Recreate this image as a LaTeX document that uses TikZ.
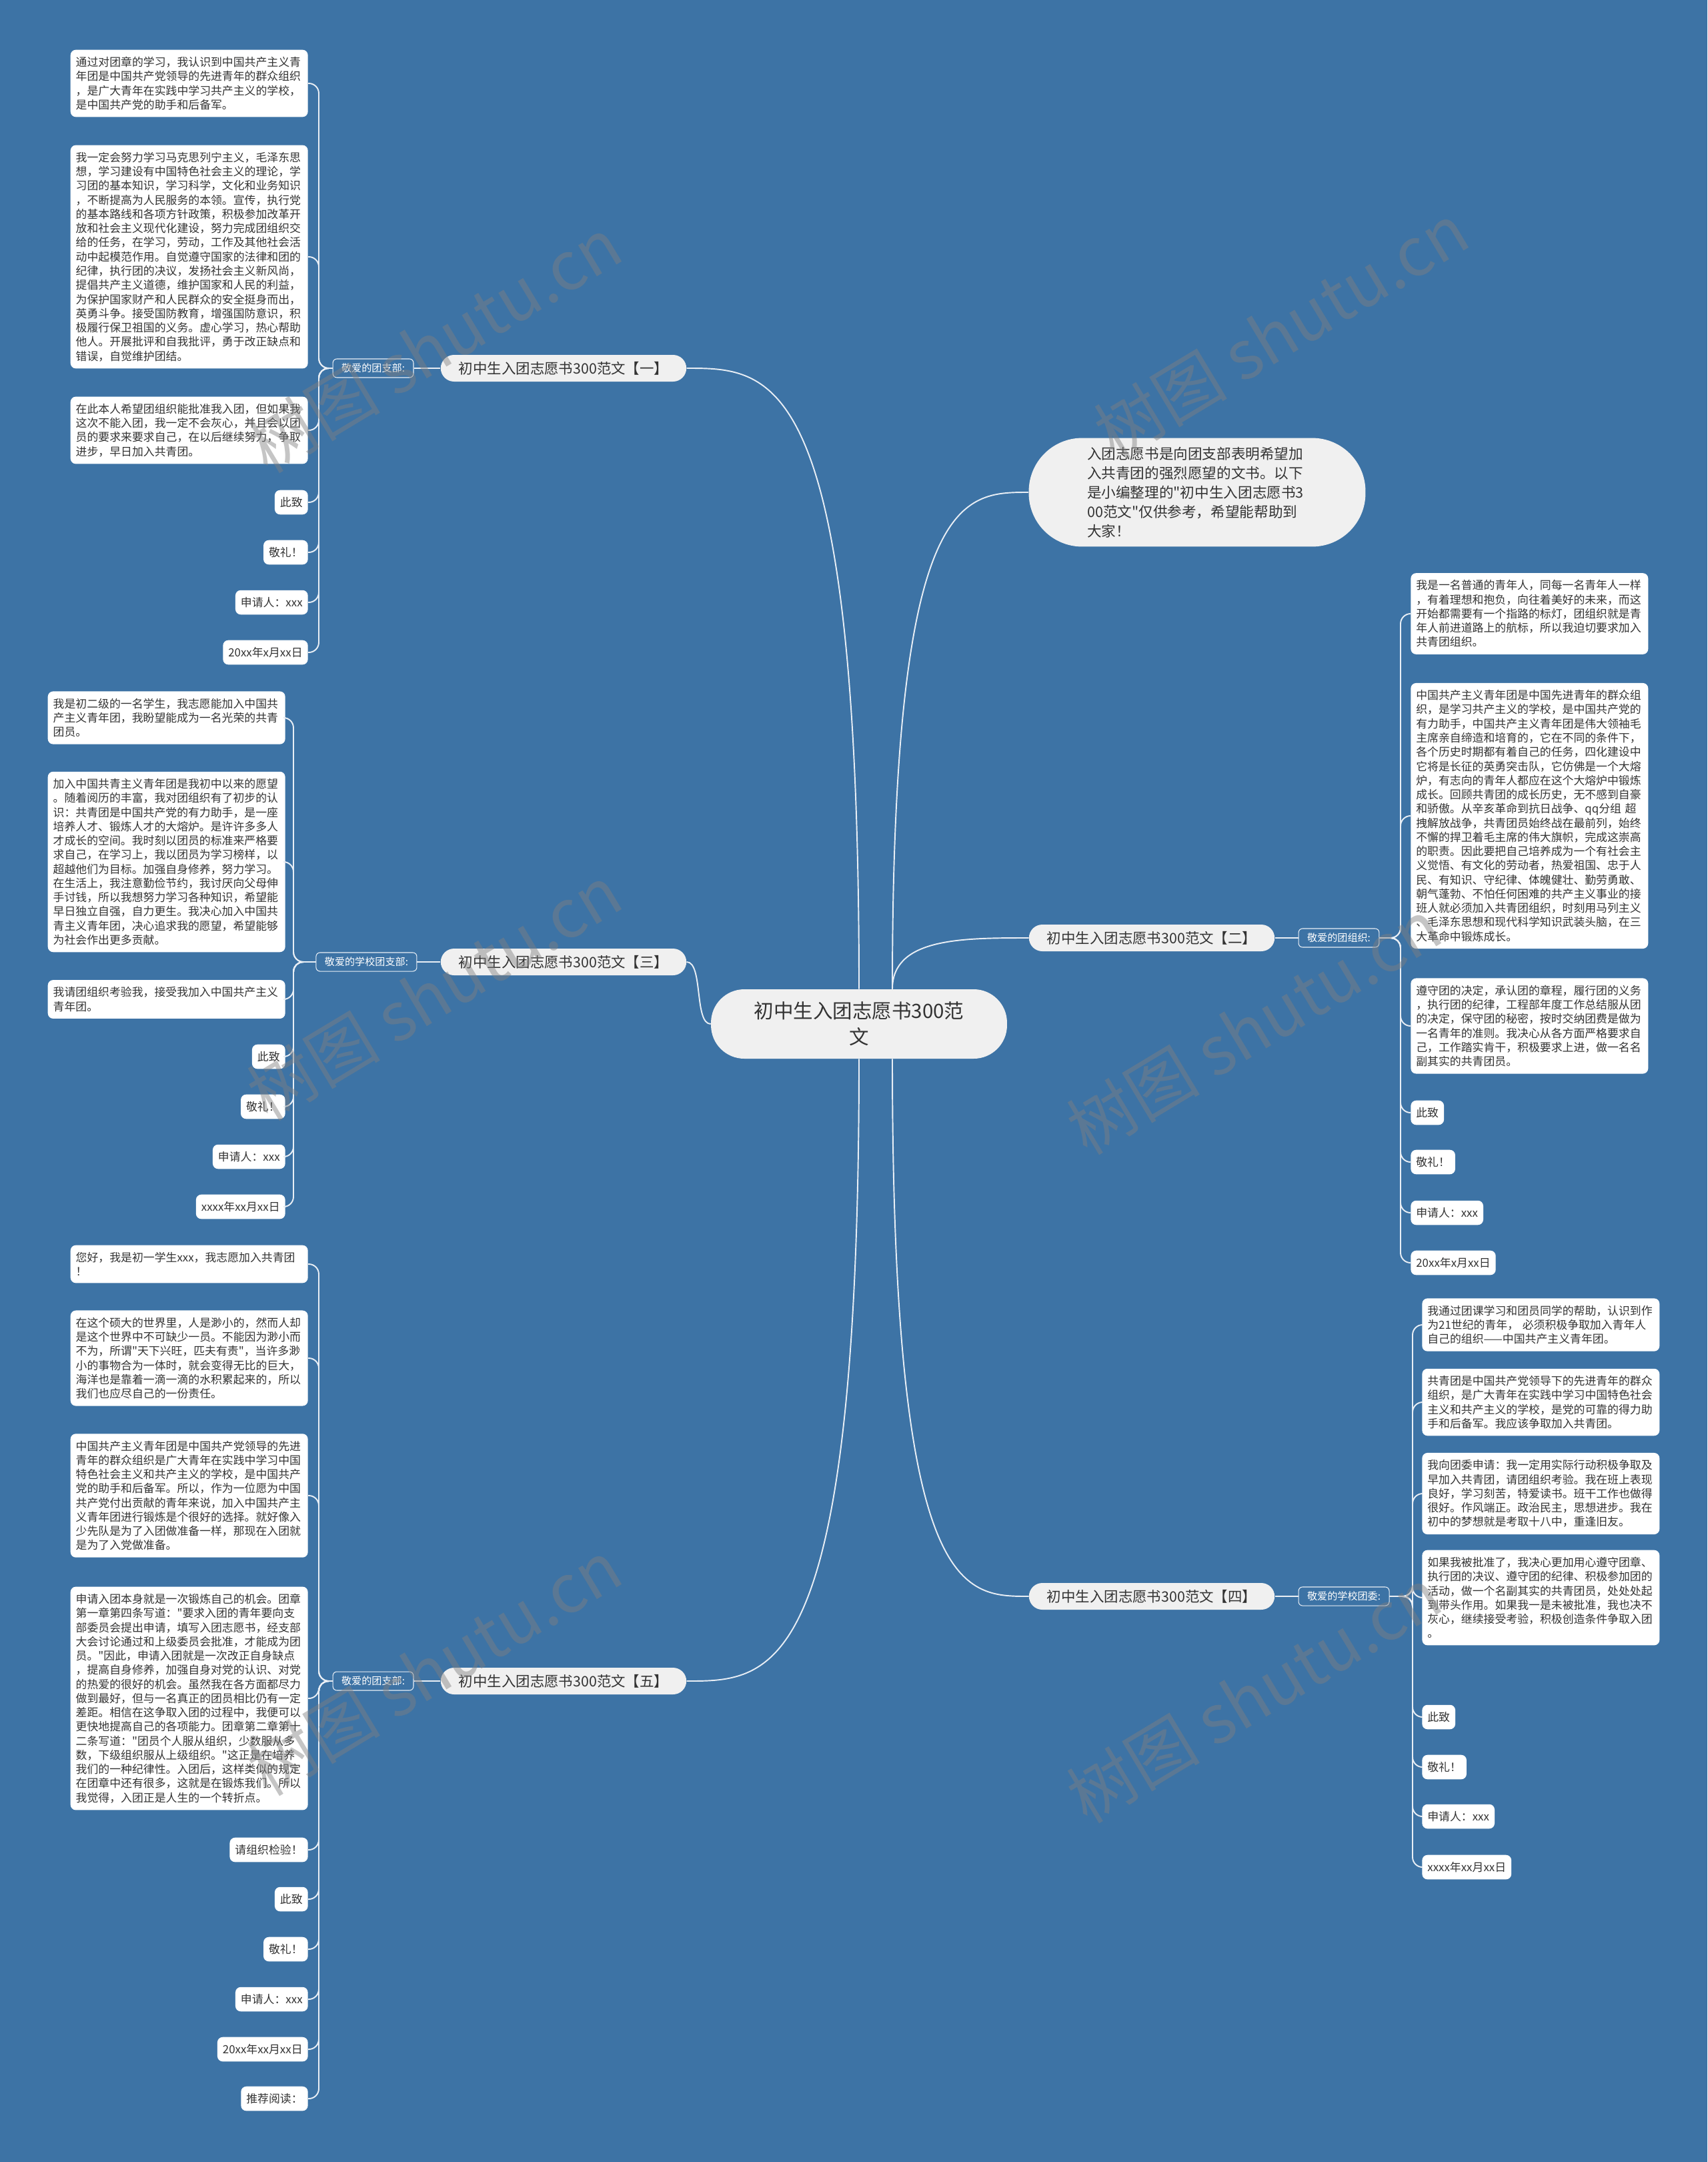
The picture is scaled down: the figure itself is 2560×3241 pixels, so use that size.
\documentclass[tikz,border=0pt]{standalone}
\usepackage{fontspec}
\setmainfont{Noto Sans CJK SC}[Ligatures=TeXOff]
\usepackage{tikz}
\usetikzlibrary{positioning}

\definecolor{bgblue}{RGB}{61,115,165}
\definecolor{txtgray}{RGB}{51,51,51}
\definecolor{pale}{RGB}{240,240,240}
\definecolor{linecol}{RGB}{232,238,245}

\begin{document}
\begin{tikzpicture}[x=0.02cm,y=-0.02cm,
    leaf/.style={fill=white,rounded corners=0.16cm,text=txtgray,inner xsep=0.16cm,inner ysep=0.21cm,font=\fontsize{9.6}{12.1}\selectfont},
    para/.style={leaf,text width=6.8cm,align=left},
    branch/.style={fill=pale,rounded corners=0.4cm,text=txtgray,inner xsep=0.54cm,inner ysep=0.2cm,font=\fontsize{12.2}{14}\selectfont},
    greet/.style={draw=linecol,line width=0.6pt,fill=bgblue,rounded corners=0.12cm,text=white,inner xsep=0.26cm,inner ysep=0.14cm,font=\fontsize{8.6}{10}\selectfont},
    link/.style={draw=linecol,line width=1.1pt},
    elbow/.style={link,rounded corners=0.3cm},
    wmark/.style={text=gray,opacity=0.45,rotate=31,font=\fontsize{57}{60}\selectfont}]

  \fill[bgblue] (0,0) rectangle (2560,3241);

  % centre and intro
  \node[fill=pale,rounded corners=1cm,minimum width=8.88cm,minimum height=2.08cm,align=center,text=txtgray,font=\fontsize{16.8}{22}\selectfont] (ctr) at (1288,1535) {初中生入团志愿书300范\\文};
  \node[fill=pale,rounded corners=1.6cm,text width=6.6cm,align=left,inner xsep=1.75cm,inner ysep=0.27cm,text=txtgray,font=\fontsize{12.3}{16.5}\selectfont] (intro) at (1795,738) {入团志愿书是向团支部表明希望加\\入共青团的强烈愿望的文书。以下\\是小编整理的"初中生入团志愿书3\\00范文"仅供参考，希望能帮助到\\大家！};

  % branches
  \node[branch] (b1) at (845,552) {初中生入团志愿书300范文【一】};
  \node[branch] (b3) at (845,1442) {初中生入团志愿书300范文【三】};
  \node[branch] (b5) at (845,2520) {初中生入团志愿书300范文【五】};
  \node[branch] (b2) at (1727,1406) {初中生入团志愿书300范文【二】};
  \node[branch] (b4) at (1727,2393) {初中生入团志愿书300范文【四】};

  \node[greet,left=0.8cm of b1] (g1) {敬爱的团支部:};
  \node[greet,left=0.7cm of b3] (g3) {敬爱的学校团支部:};
  \node[greet,left=0.8cm of b5] (g5) {敬爱的团支部:};
  \node[greet,right=0.7cm of b2] (g2) {敬爱的团组织:};
  \node[greet,right=0.7cm of b4] (g4) {敬爱的学校团委:};

  \coordinate (s1) at (478,552);
  \coordinate (s3) at (440,1442);
  \coordinate (s5) at (478,2520);
  \coordinate (s2) at (2100,1406);
  \coordinate (s4) at (2118,2393);

  % group one
  \node[para,anchor=east] (l1a) at (462,125) {通过对团章的学习，我认识到中国共产主义青\\年团是中国共产党领导的先进青年的群众组织\\，是广大青年在实践中学习共产主义的学校，\\是中国共产党的助手和后备军。};
  \node[para,anchor=east] (l1b) at (462,385) {我一定会努力学习马克思列宁主义，毛泽东思\\想，学习建设有中国特色社会主义的理论，学\\习团的基本知识，学习科学，文化和业务知识\\，不断提高为人民服务的本领。宣传，执行党\\的基本路线和各项方针政策，积极参加改革开\\放和社会主义现代化建设，努力完成团组织交\\给的任务，在学习，劳动，工作及其他社会活\\动中起模范作用。自觉遵守国家的法律和团的\\纪律，执行团的决议，发扬社会主义新风尚，\\提倡共产主义道德，维护国家和人民的利益，\\为保护国家财产和人民群众的安全挺身而出，\\英勇斗争。接受国防教育，增强国防意识，积\\极履行保卫祖国的义务。虚心学习，热心帮助\\他人。开展批评和自我批评，勇于改正缺点和\\错误，自觉维护团结。};
  \node[para,anchor=east] (l1c) at (462,645) {在此本人希望团组织能批准我入团，但如果我\\这次不能入团，我一定不会灰心，并且会以团\\员的要求来要求自己，在以后继续努力，争取\\进步，早日加入共青团。};
  \node[leaf,anchor=east] (l1d) at (462,753) {此致};
  \node[leaf,anchor=east] (l1e) at (462,828) {敬礼！};
  \node[leaf,anchor=east] (l1f) at (462,903) {申请人：xxx};
  \node[leaf,anchor=east] (l1g) at (462,978) {20xx年x月xx日};

  % group three
  \node[para,anchor=east] (l3a) at (428,1076) {我是初二级的一名学生，我志愿能加入中国共\\产主义青年团，我盼望能成为一名光荣的共青\\团员。};
  \node[para,anchor=east] (l3b) at (428,1292) {加入中国共青主义青年团是我初中以来的愿望\\。随着阅历的丰富，我对团组织有了初步的认\\识：共青团是中国共产党的有力助手，是一座\\培养人才、锻炼人才的大熔炉。是许许多多人\\才成长的空间。我时刻以团员的标准来严格要\\求自己，在学习上，我以团员为学习榜样，以\\超越他们为目标。加强自身修养，努力学习。\\在生活上，我注意勤俭节约，我讨厌向父母伸\\手讨钱，所以我想努力学习各种知识，希望能\\早日独立自强，自力更生。我决心加入中国共\\青主义青年团，决心追求我的愿望，希望能够\\为社会作出更多贡献。};
  \node[para,anchor=east] (l3c) at (428,1498) {我请团组织考验我，接受我加入中国共产主义\\青年团。};
  \node[leaf,anchor=east] (l3d) at (428,1584) {此致};
  \node[leaf,anchor=east] (l3e) at (428,1659) {敬礼！};
  \node[leaf,anchor=east] (l3f) at (428,1734) {申请人：xxx};
  \node[leaf,anchor=east] (l3g) at (428,1809) {xxxx年xx月xx日};

  % group five
  \node[para,anchor=east] (l5a) at (462,1895) {您好，我是初一学生xxx，我志愿加入共青团\\！};
  \node[para,anchor=east] (l5b) at (462,2036) {在这个硕大的世界里，人是渺小的，然而人却\\是这个世界中不可缺少一员。不能因为渺小而\\不为，所谓"天下兴旺，匹夫有责"，当许多渺\\小的事物合为一体时，就会变得无比的巨大，\\海洋也是靠着一滴一滴的水积累起来的，所以\\我们也应尽自己的一份责任。};
  \node[para,anchor=east] (l5c) at (462,2242) {中国共产主义青年团是中国共产党领导的先进\\青年的群众组织是广大青年在实践中学习中国\\特色社会主义和共产主义的学校，是中国共产\\党的助手和后备军。所以，作为一位愿为中国\\共产党付出贡献的青年来说，加入中国共产主\\义青年团进行锻炼是个很好的选择。就好像入\\少先队是为了入团做准备一样，那现在入团就\\是为了入党做准备。};
  \node[para,anchor=east] (l5d) at (462,2546) {申请入团本身就是一次锻炼自己的机会。团章\\第一章第四条写道："要求入团的青年要向支\\部委员会提出申请，填写入团志愿书，经支部\\大会讨论通过和上级委员会批准，才能成为团\\员。"因此，申请入团就是一次改正自身缺点\\，提高自身修养，加强自身对党的认识、对党\\的热爱的很好的机会。虽然我在各方面都尽力\\做到最好，但与一名真正的团员相比仍有一定\\差距。相信在这争取入团的过程中，我便可以\\更快地提高自己的各项能力。团章第二章第十\\二条写道："团员个人服从组织，少数服从多\\数，下级组织服从上级组织。"这正是在培养\\我们的一种纪律性。入团后，这样类似的规定\\在团章中还有很多，这就是在锻炼我们。所以\\我觉得，入团正是人生的一个转折点。};
  \node[leaf,anchor=east] (l5e) at (462,2773) {请组织检验！};
  \node[leaf,anchor=east] (l5f) at (462,2847) {此致};
  \node[leaf,anchor=east] (l5g) at (462,2922) {敬礼！};
  \node[leaf,anchor=east] (l5h) at (462,2997) {申请人：xxx};
  \node[leaf,anchor=east] (l5i) at (462,3072) {20xx年xx月xx日};
  \node[leaf,anchor=east] (l5j) at (462,3146) {推荐阅读：};

  % group two
  \node[para,anchor=west] (r2a) at (2115,920) {我是一名普通的青年人，同每一名青年人一样\\，有着理想和抱负，向往着美好的未来，而这\\开始都需要有一个指路的标灯，团组织就是青\\年人前进道路上的航标，所以我迫切要求加入\\共青团组织。};
  \node[para,anchor=west] (r2b) at (2115,1223) {中国共产主义青年团是中国先进青年的群众组\\织，是学习共产主义的学校，是中国共产党的\\有力助手，中国共产主义青年团是伟大领袖毛\\主席亲自缔造和培育的，它在不同的条件下，\\各个历史时期都有着自己的任务，四化建设中\\它将是长征的英勇突击队，它仿佛是一个大熔\\炉，有志向的青年人都应在这个大熔炉中锻炼\\成长。回顾共青团的成长历史，无不感到自豪\\和骄傲。从辛亥革命到抗日战争、qq分组 超\\拽解放战争，共青团员始终战在最前列，始终\\不懈的捍卫着毛主席的伟大旗帜，完成这崇高\\的职责。因此要把自己培养成为一个有社会主\\义觉悟、有文化的劳动者，热爱祖国、忠于人\\民、有知识、守纪律、体魄健壮、勤劳勇敢、\\朝气蓬勃、不怕任何困难的共产主义事业的接\\班人就必须加入共青团组织，时刻用马列主义\\、毛泽东思想和现代科学知识武装头脑，在三\\大革命中锻炼成长。};
  \node[para,anchor=west] (r2c) at (2115,1538) {遵守团的决定，承认团的章程，履行团的义务\\，执行团的纪律，工程部年度工作总结服从团\\的决定，保守团的秘密，按时交纳团费是做为\\一名青年的准则。我决心从各方面严格要求自\\己，工作踏实肯干，积极要求上进，做一名名\\副其实的共青团员。};
  \node[leaf,anchor=west] (r2d) at (2115,1668) {此致};
  \node[leaf,anchor=west] (r2e) at (2115,1742) {敬礼！};
  \node[leaf,anchor=west] (r2f) at (2115,1818) {申请人：xxx};
  \node[leaf,anchor=west] (r2g) at (2115,1893) {20xx年x月xx日};

  % group four
  \node[para,anchor=west] (r4a) at (2132,1986) {我通过团课学习和团员同学的帮助，认识到作\\为21世纪的青年， 必须积极争取加入青年人\\自己的组织——中国共产主义青年团。};
  \node[para,anchor=west] (r4b) at (2132,2102) {共青团是中国共产党领导下的先进青年的群众\\组织，是广大青年在实践中学习中国特色社会\\主义和共产主义的学校，是党的可靠的得力助\\手和后备军。我应该争取加入共青团。};
  \node[para,anchor=west] (r4c) at (2132,2239) {我向团委申请：我一定用实际行动积极争取及\\早加入共青团，请团组织考验。我在班上表现\\良好，学习刻苦，特爱读书。班干工作也做得\\很好。作风端正。政治民主，思想进步。我在\\初中的梦想就是考取十八中，重逢旧友。};
  \node[para,anchor=west] (r4d) at (2132,2395) {如果我被批准了，我决心更加用心遵守团章、\\执行团的决议、遵守团的纪律、积极参加团的\\活动，做一个名副其实的共青团员，处处处起\\到带头作用。如果我一是未被批准，我也决不\\灰心，继续接受考验，积极创造条件争取入团\\。};
  \node[leaf,anchor=west] (r4e) at (2132,2574) {此致};
  \node[leaf,anchor=west] (r4f) at (2132,2649) {敬礼！};
  \node[leaf,anchor=west] (r4g) at (2132,2723) {申请人：xxx};
  \node[leaf,anchor=west] (r4h) at (2132,2799) {xxxx年xx月xx日};

  % connectors
  \coordinate (cn) at ([xshift=1cm]ctr.north);
  \coordinate (cs) at ([xshift=1cm]ctr.south);
  \draw[link] (b1.east) .. controls +(130,0) and (ctr.north |- b1.east) .. (ctr.north);
  \draw[link] (b3.east) .. controls +(25,0) and +(-25,0) .. (ctr.west);
  \draw[link] (b5.east) .. controls +(130,0) and (ctr.south |- b5.east) .. (ctr.south);
  \draw[link] (intro.west) .. controls +(-100,0) and (cn |- intro.west) .. (cn);
  \draw[link] (b2.west) .. controls +(-100,0) and (cn |- b2.west) .. (cn);
  \draw[link] (b4.west) .. controls +(-100,0) and (cs |- b4.west) .. (cs);

  \draw[link] (g1) -- (b1);
  \draw[link] (g3) -- (b3);
  \draw[link] (g5) -- (b5);
  \draw[link] (b2) -- (g2);
  \draw[link] (b4) -- (g4);

  \foreach \n in {l1a,l1b,l1c,l1d,l1e,l1f,l1g}
    \draw[elbow] (g1.west) -- (s1) -- (s1 |- \n.east) -- (\n.east);
  \foreach \n in {l3a,l3b,l3c,l3d,l3e,l3f,l3g}
    \draw[elbow] (g3.west) -- (s3) -- (s3 |- \n.east) -- (\n.east);
  \foreach \n in {l5a,l5b,l5c,l5d,l5e,l5f,l5g,l5h,l5i,l5j}
    \draw[elbow] (g5.west) -- (s5) -- (s5 |- \n.east) -- (\n.east);
  \foreach \n in {r2a,r2b,r2c,r2d,r2e,r2f,r2g}
    \draw[elbow] (g2.east) -- (s2) -- (s2 |- \n.west) -- (\n.west);
  \foreach \n in {r4a,r4b,r4c,r4d,r4e,r4f,r4g,r4h}
    \draw[elbow] (g4.east) -- (s4) -- (s4 |- \n.west) -- (\n.west);

  % watermarks
  \foreach \x/\y [count=\i] in {651/517,1921/496,651/1488,1880/1539,651/2500,1880/2541}
    \node[wmark] (w\i) at (\x,\y) {树图 shutu.cn};
\end{tikzpicture}
\end{document}
